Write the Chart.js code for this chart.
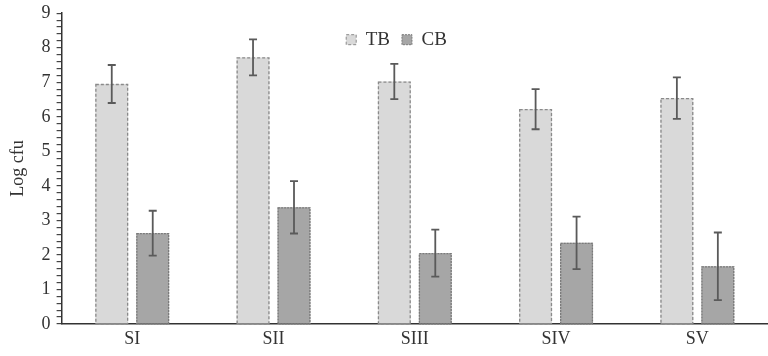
<!DOCTYPE html>
<html>
<head>
<meta charset="utf-8">
<script src="https://cdn.jsdelivr.net/npm/chart.js@4/dist/chart.umd.min.js"></script>
<style>
  html, body { margin: 0; padding: 0; background: #fff; }
  #wrap { width: 768px; height: 356px; }
</style>
</head>
<body>
<div id="wrap"><canvas id="chart"></canvas></div>
<script>
// data
const sites = ['SI', 'SII', 'SIII', 'SIV', 'SV'];
const tbMean = [6.95, 7.72, 7.02, 6.22, 6.54];
const tbErr = [0.55, 0.52, 0.51, 0.58, 0.60];
const cbMean = [2.63, 3.38, 2.05, 2.35, 1.67];
const cbErr = [0.65, 0.76, 0.68, 0.76, 0.98];

const serif = "'Liberation Serif', 'DejaVu Serif', serif";

// legend sits inside the plot: take no layout height, then push it down
const legendInside = {
    id: 'legendInside',
    afterInit(chart) {
        const lg = chart.legend;
        const fit = lg.fit;
        lg.fit = function() {
            fit.call(this);
            this._fullH = this.height;
            this.height = 0;
        };
    },
    afterLayout(chart) {
        const lg = chart.legend;
        lg.top = chart.chartArea.top + 5;
        lg.height = lg._fullH;
        lg.bottom = lg.top + lg._fullH;
        lg.left += 9;
        lg.right += 9;
    }
};

// dashed bar outlines + error bars, placed with the chart's own elements/scales
const errorBars = {
    id: 'errorBars',
    afterDatasetsDraw(chart) {
        const ctx = chart.ctx;
        const y = chart.scales.y;
        chart.data.datasets.forEach(function(ds, i) {
            const meta = chart.getDatasetMeta(i);
            meta.data.forEach(function(bar, j) {
                const left = bar.x - bar.width / 2;
                const top = Math.min(bar.y, bar.base);
                const h = Math.abs(bar.base - bar.y);
                ctx.save();
                ctx.strokeStyle = ds.dashColor;
                ctx.lineWidth = 1.3;
                ctx.setLineDash(ds.dash);
                ctx.strokeRect(left + 0.5, top + 0.5, bar.width - 1, h);
                ctx.restore();

                const v = ds.data[j], e = ds.errors[j];
                const yHi = y.getPixelForValue(v + e);
                const yLo = y.getPixelForValue(v - e);
                ctx.save();
                ctx.strokeStyle = '#5a5a5a';
                ctx.lineWidth = 1.8;
                ctx.beginPath();
                ctx.moveTo(bar.x, yHi); ctx.lineTo(bar.x, yLo);
                ctx.moveTo(bar.x - 4, yHi); ctx.lineTo(bar.x + 4, yHi);
                ctx.moveTo(bar.x - 4, yLo); ctx.lineTo(bar.x + 4, yLo);
                ctx.stroke();
                ctx.restore();
            });
        });
    }
};

new Chart(document.getElementById('chart'), {
    type: 'bar',
    data: {
        labels: sites,
        datasets: [{
            label: 'TB',
            data: tbMean,
            errors: tbErr,
            backgroundColor: '#d9d9d9',
            borderWidth: 0,
            dashColor: '#8a8a8a',
            dash: [3, 2]
        }, {
            label: 'CB',
            data: cbMean,
            errors: cbErr,
            backgroundColor: '#a6a6a6',
            borderWidth: 0,
            dashColor: '#7a7a7a',
            dash: [2, 1]
        }]
    },
    options: {
        responsive: true,
        maintainAspectRatio: false,
        animation: false,
        layout: { padding: { top: 0, right: 0, left: 7, bottom: 2 } },
        datasets: {
            bar: { categoryPercentage: 0.58, barPercentage: 0.8 }
        },
        plugins: {
            tooltip: { enabled: false },
            legend: {
                position: 'top',
                align: 'center',
                labels: {
                    font: { family: serif, size: 19 },
                    color: '#333',
                    boxWidth: 10,
                    boxHeight: 10,
                    padding: 12,
                    generateLabels: function(chart) {
                        const items = Chart.defaults.plugins.legend.labels.generateLabels(chart);
                        items.forEach(function(it, k) {
                            const ds = chart.data.datasets[k];
                            it.strokeStyle = ds.dashColor;
                            it.lineWidth = 1;
                            it.lineDash = ds.dash;
                        });
                        return items;
                    }
                }
            }
        },
        scales: {
            x: {
                grid: { display: false, drawTicks: false },
                border: { display: true, color: '#333', width: 1.5 },
                ticks: { font: { family: serif, size: 18, lineHeight: 1 }, color: '#333', padding: 6 }
            },
            y: {
                min: 0,
                max: 9,
                grid: { drawOnChartArea: false, drawTicks: true, tickLength: 5, color: '#444', lineWidth: 1.2 },
                border: { display: true, color: '#333', width: 1.5 },
                title: { display: true, text: 'Log cfu', font: { family: serif, size: 18 }, color: '#333', padding: { top: 0, bottom: 7 } },
                ticks: {
                    stepSize: 0.2,
                    autoSkip: false,
                    font: { family: serif, size: 18, lineHeight: 0.8 },
                    color: '#333',
                    padding: 6,
                    callback: function(v) {
                        const r = Math.round(v * 1000) / 1000;
                        return Number.isInteger(r) ? String(r) : '';
                    }
                }
            }
        }
    },
    plugins: [legendInside, errorBars]
});
</script>
</body>
</html>
